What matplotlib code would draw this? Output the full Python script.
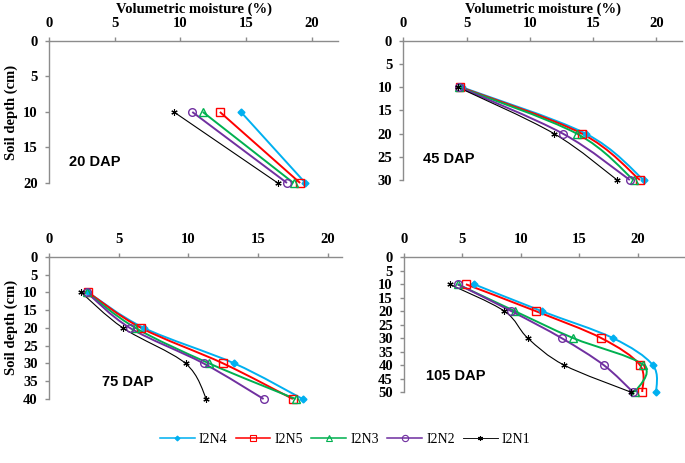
import matplotlib
matplotlib.use('Agg')

import numpy as np
import matplotlib.pyplot as plt
from matplotlib.path import Path
from matplotlib.patches import PathPatch
from matplotlib.lines import Line2D

# 全局字体：Times 风格（Liberation Serif）
plt.rcParams['font.family'] = 'Liberation Serif'
plt.rcParams['font.size'] = 10

# ---------------- 数据 ----------------
series_names = ['I2N4', 'I2N5', 'I2N3', 'I2N2', 'I2N1']

depth_20 = [10, 20]
depth_45 = [10, 20, 30]
depth_75 = [10, 20, 30, 40]
depth_105 = [10, 20, 30, 40, 50]

moist_20 = {
    'I2N4': [14.6, 19.5],
    'I2N5': [13.0, 19.1],
    'I2N3': [11.7, 18.6],
    'I2N2': [10.9, 18.1],
    'I2N1': [9.5, 17.4],
}
moist_45 = {
    'I2N4': [4.6, 14.4, 19.0],
    'I2N5': [4.5, 14.1, 18.7],
    'I2N3': [4.4, 13.7, 18.2],
    'I2N2': [4.4, 12.6, 17.9],
    'I2N1': [4.3, 11.9, 16.9],
}
moist_75 = {
    'I2N4': [2.8, 6.8, 13.3, 18.2],
    'I2N5': [2.8, 6.6, 12.5, 17.5],
    'I2N3': [2.7, 6.2, 11.5, 17.7],
    'I2N2': [2.7, 5.8, 11.1, 15.4],
    'I2N1': [2.3, 5.3, 9.8, 11.3],
}
moist_105 = {
    'I2N4': [6.0, 11.8, 17.9, 21.3, 21.6],
    'I2N5': [5.3, 11.3, 16.9, 20.2, 20.4],
    'I2N3': [4.6, 9.5, 14.5, 20.5, 19.8],
    'I2N2': [4.6, 9.2, 13.5, 17.1, 19.6],
    'I2N1': [3.9, 8.6, 10.6, 13.7, 19.4],
}

# 样式
colors = {'I2N4': '#00B0F0', 'I2N5': '#FF0000', 'I2N3': '#00B050',
          'I2N2': '#7030A0', 'I2N1': '#000000'}
markers = {'I2N4': 'D', 'I2N5': 's', 'I2N3': '^', 'I2N2': 'o', 'I2N1': (6, 2, 0)}
msizes = {'I2N4': 3.5, 'I2N5': 5.5, 'I2N3': 5.5, 'I2N2': 5.5, 'I2N1': 4.5}
mews = {'I2N4': 1.0, 'I2N5': 1.0, 'I2N3': 1.0, 'I2N2': 1.0, 'I2N1': 0.8}
lwidths = {'I2N4': 1.4, 'I2N5': 1.4, 'I2N3': 1.4, 'I2N2': 1.4, 'I2N1': 0.8}
axis_gray = '#8C8C8C'


def smooth_path(xs, ys):
    # Excel 风格平滑线：Catmull-Rom 转三次 Bezier
    pts = np.column_stack([xs, ys]).astype(float)
    verts = [pts[0]]
    codes = [Path.MOVETO]
    n = len(pts)
    for i in range(n - 1):
        p0 = pts[i - 1] if i > 0 else pts[i]
        p1 = pts[i]
        p2 = pts[i + 1]
        p3 = pts[i + 2] if i + 2 < n else pts[i + 1]
        c1 = p1 + (p2 - p0) / 6.0
        c2 = p2 - (p3 - p1) / 6.0
        verts += [c1, c2, p2]
        codes += [Path.CURVE4] * 3
    return Path(verts, codes)


fig = plt.figure(figsize=(6.85, 4.63), dpi=100)

panels = [
    # (axes rect, depths, data, ymax, xmax, label, label pos, show ylabel, show xlabel)
    ([0.0715, 0.6048, 0.4223, 0.3067], depth_20, moist_20, 20, 22, '20 DAP', (0.07, 0.15), True, True),
    ([0.5888, 0.6112, 0.4064, 0.3009], depth_45, moist_45, 30, 22, '45 DAP', (0.07, 0.15), False, True),
    ([0.0715, 0.1382, 0.4273, 0.3073], depth_75, moist_75, 40, 21, '75 DAP', (0.18, 0.12), True, False),
    ([0.5898, 0.1533, 0.4092, 0.2909], depth_105, moist_105, 50, 24, '105 DAP', (0.08, 0.12), False, False),
]

for rect, depths, data, ymax, xmax, lab, lpos, show_y, show_x in panels:
    ax = fig.add_axes(rect)
    for name in series_names:
        xs = data[name]
        patch = PathPatch(smooth_path(xs, depths), fill=False, edgecolor=colors[name],
                          lw=lwidths[name], clip_on=False, zorder=2)
        ax.add_patch(patch)
        mfc = colors[name] if name == 'I2N4' else 'none'
        ax.plot(xs, depths, linestyle='none', marker=markers[name], ms=msizes[name],
                mec=colors[name], mfc=mfc, mew=mews[name], clip_on=False, zorder=3)
    ax.set_xlim(0, xmax)
    ax.set_ylim(ymax, 0)
    ax.set_xticks([0, 5, 10, 15, 20])
    ax.set_yticks(np.arange(0, ymax + 1, 5))
    ax.xaxis.tick_top()
    ax.xaxis.set_label_position('top')
    for s in ['right', 'bottom']:
        ax.spines[s].set_visible(False)
    for s in ['top', 'left']:
        ax.spines[s].set_color(axis_gray)
        ax.spines[s].set_linewidth(1.0)
    ax.tick_params(axis='both', direction='out', length=3, width=1.0, color=axis_gray,
                   labelsize=10.5, pad=5)
    for lbl in ax.get_xticklabels() + ax.get_yticklabels():
        lbl.set_fontweight('bold')
    if show_x:
        ax.set_xlabel('Volumetric moisture (%)', fontweight='bold', fontsize=10.5, labelpad=3)
    if show_y:
        ax.set_ylabel('Soil depth (cm)', fontweight='bold', fontsize=10.5, labelpad=4)
    ax.text(lpos[0], lpos[1], lab, transform=ax.transAxes, family='Liberation Sans',
            fontweight='bold', fontsize=10.5, va='center', ha='left')

# 图例
handles = [Line2D([0], [0], color=colors[n], lw=lwidths[n] * 0.8, marker=markers[n],
                  ms=msizes[n] - 1, mec=colors[n],
                  mfc=colors[n] if n == 'I2N4' else 'none', mew=0.8)
           for n in series_names]
fig.legend(handles, series_names, loc='center', bbox_to_anchor=(0.504, 0.05), ncol=5,
           frameon=False, fontsize=10, handlelength=2.5, handletextpad=0.3,
           columnspacing=0.6)

fig.savefig('out.png', dpi=100)
